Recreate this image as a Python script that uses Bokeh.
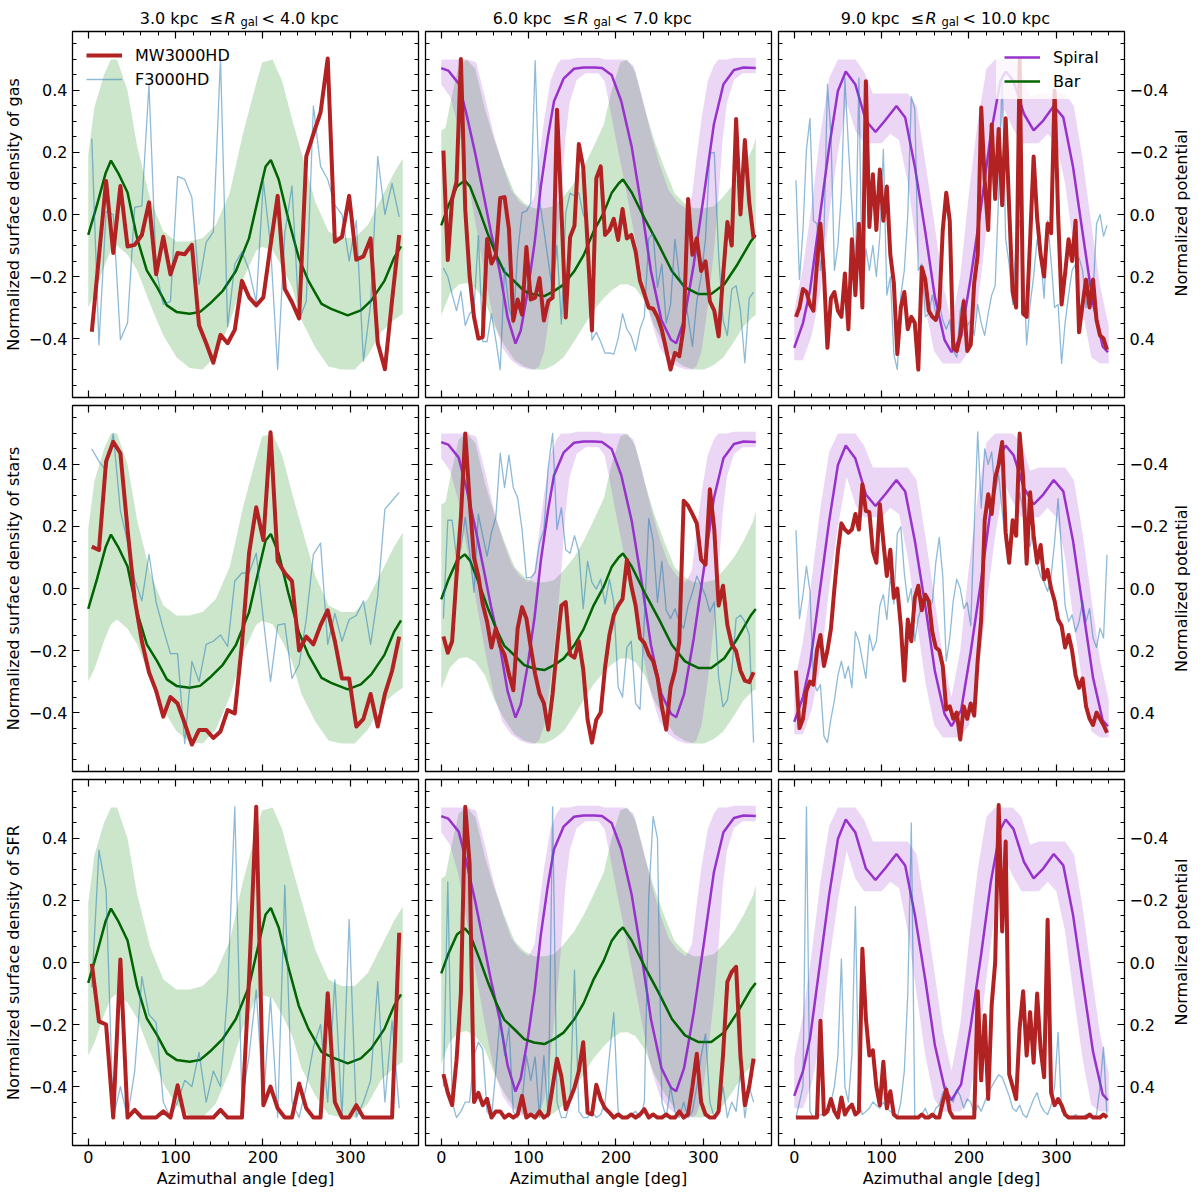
import numpy as np
from bokeh.plotting import figure
from bokeh.models import (Range1d, LinearAxis, FixedTicker, Legend, LegendItem,
                          CustomJSTickFormatter)
from bokeh.core.properties import value
from bokeh.layouts import column, row
from bokeh.embed import file_html
from bokeh.resources import INLINE

FONT = "DejaVu Sans"
FS = "16px"
FW, FH = 346, 366
AXL = 66   # space for the labelled left axis
AXR = 46   # space for the labelled right axis ticks
TITLE_H = 30
RLAB_W = 20

# ---------------- tick positions ----------------
X_MAJOR = [0, 100, 200, 300]
X_MINOR = [20, 40, 60, 80, 120, 140, 160, 180, 220, 240, 260, 280, 320, 340, 360]
Y_MAJOR = [-0.4, -0.2, 0.0, 0.2, 0.4]
Y_MINOR = [-0.55, -0.5, -0.45, -0.35, -0.3, -0.25, -0.15, -0.1, -0.05,
           0.05, 0.1, 0.15, 0.25, 0.3, 0.35, 0.45, 0.5, 0.55]

# ---------------- titles / labels ----------------
R_BINS = [("3.0", "4.0"), ("6.0", "7.0"), ("9.0", "10.0")]
ROW_LABELS = ["Normalized surface density of gas",
              "Normalized surface density of stars",
              "Normalized surface density of SFR"]

# ---------------- bar potential (normalized potential) ----------------
BAR3_ANG = [0, 10, 20, 26, 35, 45, 56, 67, 79, 90, 101, 116, 128, 139, 154, 169, 184, 196, 203, 209,
            218, 229, 241, 252, 267, 278, 297, 312, 324, 339, 350, 358]
BAR3_PHI = [0.066, -0.03, -0.134, -0.174, -0.13, -0.071, 0.077, 0.18, 0.235, 0.293,
            0.314, 0.32, 0.314, 0.288, 0.246, 0.182, 0.077, -0.071, -0.155, -0.176,
            -0.113, 0.014, 0.14, 0.214, 0.288, 0.304, 0.325, 0.309, 0.277, 0.214, 0.14, 0.103]
BARBAND3_ANG = [0, 7, 18, 26, 33, 45, 56, 71, 86, 101, 116, 131, 146, 162, 177, 192, 199, 211, 222, 233,
                244, 260, 275, 290, 305, 320, 335, 350, 360]
BARBAND3_LO = [-0.193, -0.345, -0.45, -0.50, -0.50, -0.40, -0.22, -0.05, 0.055, 0.087,
               0.087, 0.076, 0.034, -0.07, -0.26, -0.42, -0.49, -0.50, -0.43, -0.31,
               -0.20, -0.04, 0.055, 0.076, 0.076, 0.034, -0.05, -0.135, -0.18]
BARBAND3_HI = [0.30, 0.26, 0.17, 0.115, 0.10, 0.13, 0.18, 0.29, 0.39, 0.46,
               0.495, 0.50, 0.455, 0.35, 0.21, 0.118, 0.105, 0.115, 0.17, 0.233,
               0.34, 0.43, 0.49, 0.50, 0.50, 0.455, 0.38, 0.34, 0.32]

BAR6_ANG = [0, 8, 18, 27, 33, 44, 54, 63, 72, 84, 95, 106, 118, 129, 140, 152, 163, 174, 186, 195,
            203, 208, 218, 233, 249, 264, 279, 294, 309, 324, 339, 354, 360]
BAR6_PHI = [0.035, -0.027, -0.09, -0.11, -0.09, -0.01, 0.068, 0.131, 0.184, 0.216,
            0.247, 0.258, 0.263, 0.247, 0.226, 0.184, 0.131, 0.057, -0.006, -0.069,
            -0.10, -0.113, -0.071, 0.014, 0.098, 0.182, 0.235, 0.256, 0.256, 0.225,
            0.161, 0.088, 0.066]
BARBAND6_ANG = [0, 5, 10, 20, 29, 39, 50, 61, 72, 84, 95, 106, 118, 129, 140, 152, 163, 174, 186, 195,
                205, 213, 222, 233, 244, 255, 267, 278, 289, 301, 312, 323, 335, 346, 357, 360]
BARBAND6_LO = [-0.27, -0.28, -0.354, -0.48, -0.50, -0.47, -0.34, -0.238, -0.153, -0.069,
               -0.037, -0.02, -0.02, -0.027, -0.058, -0.10, -0.153, -0.217, -0.29, -0.40,
               -0.49, -0.50, -0.46, -0.34, -0.238, -0.153, -0.069, -0.037, -0.02, -0.02,
               -0.027, -0.058, -0.10, -0.153, -0.217, -0.25]
BARBAND6_HI = [0.326, 0.29, 0.255, 0.226, 0.221, 0.237, 0.28, 0.36, 0.42, 0.47,
               0.49, 0.50, 0.50, 0.485, 0.46, 0.41, 0.36, 0.31, 0.27, 0.245,
               0.226, 0.225, 0.237, 0.28, 0.36, 0.42, 0.47, 0.49, 0.50, 0.50,
               0.485, 0.46, 0.41, 0.36, 0.33, 0.325]

# ---------------- spiral potential ----------------
SP6_ANG = [0, 8, 20, 29, 39, 48, 57, 67, 76, 85, 91, 99, 107, 114, 122, 129, 140, 152, 163, 175,
           184, 195, 206, 218, 229, 240, 252, 263, 269, 278, 289, 301, 312, 323, 335, 346, 360]
SP6_PHI = [-0.472, -0.464, -0.422, -0.322, -0.196, -0.07, 0.058, 0.184, 0.332, 0.416,
           0.374, 0.247, 0.089, -0.09, -0.248, -0.364, -0.438, -0.47, -0.474, -0.474,
           -0.472, -0.45, -0.366, -0.218, -0.028, 0.182, 0.34, 0.404, 0.415, 0.34,
           0.161, -0.07, -0.29, -0.42, -0.466, -0.474, -0.472]
SPBAND6_ANG = [0, 10, 20, 30, 40, 50, 60, 70, 80, 90, 100, 107, 112, 118, 125, 132, 137, 142, 147, 155,
               165, 180, 187, 192, 200, 210, 220, 230, 240, 250, 260, 270, 280, 287, 292, 298, 305, 312,
               317, 322, 327, 335, 345, 360]
SPBAND6_LO = [-0.50, -0.50, -0.50, -0.50, -0.49, -0.38, -0.26, -0.16, -0.08, -0.04,
              -0.02, -0.06, -0.18, -0.31, -0.43, -0.48, -0.50, -0.50, -0.50, -0.505,
              -0.505, -0.505, -0.50, -0.50, -0.50, -0.50, -0.48, -0.38, -0.26, -0.16,
              -0.08, -0.04, -0.02, -0.06, -0.18, -0.31, -0.43, -0.48, -0.50, -0.50,
              -0.50, -0.505, -0.505, -0.505]
SPBAND6_HI = [-0.42, -0.38, -0.28, -0.12, 0.04, 0.20, 0.34, 0.43, 0.47, 0.49,
              0.50, 0.50, 0.49, 0.44, 0.30, 0.12, -0.04, -0.24, -0.36, -0.434,
              -0.455, -0.455, -0.43, -0.36, -0.24, -0.10, 0.05, 0.20, 0.34, 0.43,
              0.47, 0.49, 0.50, 0.50, 0.49, 0.44, 0.30, 0.12, -0.04, -0.24,
              -0.36, -0.434, -0.455, -0.455]

SP9_ANG = [0, 10, 18, 29, 40, 50, 59, 70, 82, 93, 104, 117, 127, 138, 150, 161, 172, 180, 191, 202,
           214, 225, 236, 242, 251, 263, 274, 285, 297, 308, 319, 331, 342, 353, 359]
SP9_PHI = [0.43, 0.35, 0.246, 0.014, -0.218, -0.398, -0.461, -0.419, -0.303, -0.266,
           -0.303, -0.35, -0.313, -0.155, 0.056, 0.267, 0.404, 0.444, 0.393, 0.204,
           -0.028, -0.26, -0.43, -0.461, -0.43, -0.324, -0.271, -0.303, -0.35, -0.313,
           -0.155, 0.077, 0.288, 0.425, 0.444]
SPBAND9_ANG = [0, 10, 20, 30, 40, 50, 60, 70, 80, 90, 100, 110, 120, 130, 140, 150, 160, 170, 180, 190,
               200, 210, 220, 230, 240, 250, 260, 270, 280, 290, 300, 310, 320, 330, 340, 350, 360]
SPBAND9_LO = [0.31, 0.17, -0.03, -0.26, -0.44, -0.50, -0.50, -0.50, -0.46, -0.39,
              -0.39, -0.39, -0.39, -0.39, -0.35, -0.17, 0.02, 0.22, 0.35, 0.20,
              -0.07, -0.30, -0.47, -0.50, -0.50, -0.50, -0.47, -0.38, -0.39, -0.39,
              -0.39, -0.39, -0.35, -0.18, 0.03, 0.23, 0.36]
SPBAND9_HI = [0.47, 0.47, 0.39, 0.25, 0.0, -0.20, -0.36, -0.27, -0.23, -0.23,
              -0.23, -0.26, -0.24, -0.10, 0.10, 0.30, 0.44, 0.48, 0.48, 0.48,
              0.44, 0.29, 0.05, -0.17, -0.34, -0.28, -0.23, -0.23, -0.23, -0.26,
              -0.23, -0.10, 0.11, 0.31, 0.46, 0.48, 0.48]

# ---------------- surface densities, 3-4 kpc (44 azimuthal bins) ----------------
GAS_R3_MW = [-0.378, -0.135, 0.108, -0.124, 0.092, -0.103, -0.098, -0.066, 0.039, -0.193,
             -0.072, -0.193, -0.124, -0.128, -0.098, -0.357, -0.415, -0.478, -0.388, -0.415,
             -0.372, -0.214, -0.267, -0.293, -0.267, -0.10, 0.06, -0.24, -0.283, -0.335,
             0.187, 0.26, 0.329, 0.503, -0.088, -0.072, 0.06, -0.146, -0.135, -0.077,
             -0.415, -0.499, -0.277, -0.066]
GAS_R3_F = [0.245, -0.42, 0.01, 0.0, -0.404, -0.35, 0.023, 0.028, 0.42, -0.18,
            -0.29, -0.28, 0.123, 0.113, 0.055, -0.225, -0.09, -0.056, 0.503, -0.362,
            -0.16, -0.12, -0.18, -0.283, 0.108, -0.1, -0.5, -0.06, 0.092, -0.34,
            -0.28, 0.35, 0.155, 0.113, 0.03, 0.0, -0.15, -0.02, -0.473, -0.29,
            0.187, 0.0, 0.10, -0.008]
STAR_R3_MW = [0.135, 0.124, 0.41, 0.473, 0.436, 0.19, -0.034, -0.17, -0.27, -0.33,
              -0.413, -0.35, -0.371, -0.435, -0.503, -0.456, -0.456, -0.482, -0.461, -0.392,
              -0.403, -0.18, 0.114, 0.262, 0.156, 0.504, 0.088, 0.05, 0.024, -0.2,
              -0.155, -0.18, -0.118, -0.07, -0.17, -0.29, -0.29, -0.445, -0.42, -0.34,
              -0.445, -0.34, -0.266, -0.155]
STAR_R3_F = [0.45, 0.41, 0.38, 0.50, 0.25, 0.15, 0.03, -0.04, 0.11, -0.045,
             -0.13, -0.21, -0.21, -0.5, -0.235, -0.30, -0.18, -0.17, -0.15, -0.187,
             0.024, 0.05, 0.05, 0.114, -0.10, -0.30, -0.118, -0.113, -0.29, -0.245,
             -0.10, 0.11, 0.146, -0.18, -0.08, -0.17, -0.10, -0.087, -0.04, -0.18,
             -0.023, 0.256, 0.283, 0.31]
SFR_R3_MW = [-0.004, -0.19, -0.20, -0.50, 0.01, -0.50, -0.475, -0.50, -0.50, -0.50,
             -0.48, -0.50, -0.396, -0.50, -0.50, -0.50, -0.50, -0.50, -0.475, -0.50,
             -0.50, -0.50, -0.05, 0.502, -0.46, -0.40, -0.47, -0.50, -0.50, -0.39,
             -0.47, -0.50, -0.50, -0.099, -0.45, -0.50, -0.50, -0.46, -0.50, -0.50,
             -0.50, -0.50, -0.50, 0.096]
SFR_R3_F = [-0.08, 0.362, 0.233, -0.50, -0.40, -0.50, -0.35, -0.046, -0.168, -0.194,
            -0.45, -0.50, -0.45, -0.38, -0.40, -0.29, -0.45, -0.35, -0.40, -0.093,
            0.502, -0.45, -0.30, -0.088, -0.45, -0.114, -0.50, 0.249, -0.45, -0.50,
            -0.40, -0.273, -0.20, -0.45, -0.056, -0.50, 0.139, -0.50, -0.45, -0.38,
            -0.062, -0.45, -0.188, -0.47]

# ---------------- surface densities, 6-7 kpc (72 azimuthal bins) ----------------
GAS_R6_MW = [0.206, -0.147, 0.05, 0.105, 0.501, 0.016, -0.2, -0.33, -0.40, -0.395,
             -0.079, -0.158, -0.131, 0.053, 0.056, -0.047, -0.342, -0.274, -0.323, -0.105,
             -0.274, -0.268, -0.205, -0.342, -0.279, -0.268, 0.338, 0.016, -0.332, -0.073,
             -0.036, 0.227, 0.153, -0.094, -0.374, 0.117, 0.155, -0.066, -0.05, -0.014,
             -0.082, 0.018, -0.077, -0.066, -0.119, -0.214, -0.256, -0.30, -0.304, -0.33,
             -0.372, -0.436, -0.50, -0.446, -0.457, -0.362, 0.05, -0.13, -0.077, -0.182,
             -0.151, -0.28, -0.31, -0.393, -0.2, -0.024, -0.1, 0.308, 0.0, 0.24,
             0.04, -0.077]
GAS_R6_F = [-0.173, -0.2, -0.258, -0.31, -0.247, -0.358, -0.32, -0.305, -0.068, -0.41,
            -0.41, -0.32, -0.405, -0.5, -0.173, -0.30, -0.35, -0.12, 0.006, 0.011,
            0.037, 0.496, 0.047, -0.05, -0.15, -0.247, -0.10, -0.353, 0.006, 0.069,
            0.06, 0.07, 0.0, -0.03, -0.405, -0.38, -0.41, -0.447, -0.446, -0.45,
            -0.40, -0.32, -0.37, -0.393, -0.44, -0.37, -0.33, -0.077, -0.06, -0.235,
            -0.16, -0.35, -0.29, -0.08, -0.20, -0.24, -0.33, -0.425, -0.28, -0.20,
            -0.077, 0.197, 0.2, -0.13, -0.34, -0.39, -0.24, -0.23, -0.31, -0.478,
            -0.27, -0.25]
STAR_R6_MW = [-0.155, -0.207, -0.17, 0.04, 0.23, 0.50, 0.283, 0.10, 0.04, -0.05,
              -0.107, -0.19, -0.128, -0.186, -0.213, -0.276, -0.328, -0.128, -0.06, -0.097,
              -0.19, -0.276, -0.339, -0.37, -0.455, -0.339, -0.19, -0.055, -0.044, -0.213,
              -0.223, -0.17, -0.26, -0.423, -0.497, -0.423, -0.40, -0.255, -0.15, -0.086,
              -0.055, -0.034, 0.093, 0.009, -0.055, -0.16, -0.176, -0.213, -0.234, -0.287,
              -0.381, -0.455, -0.318, -0.265, -0.17, 0.283, 0.267, 0.24, 0.21, 0.093,
              0.077, 0.32, 0.19, -0.055, 0.009, -0.118, -0.18, -0.202, -0.265, -0.297,
              -0.302, -0.27]
STAR_R6_F = [-0.097, 0.22, 0.22, 0.10, 0.13, 0.23, 0.12, -0.012, 0.24, 0.17,
             0.104, 0.18, 0.23, 0.436, 0.325, 0.43, 0.325, 0.293, 0.19, 0.035,
             0.035, 0.051, 0.146, 0.19, 0.39, 0.50, 0.19, 0.26, 0.125, 0.114,
             0.17, 0.12, -0.065, 0.088, 0.02, -0.002, 0.03, -0.05, 0.03, -0.045,
             -0.318, -0.35, -0.19, -0.17, -0.37, -0.39, -0.10, 0.225, 0.155, -0.045,
             0.088, -0.07, -0.097, -0.065, -0.107, -0.128, -0.055, -0.012, 0.04, 0.009,
             -0.023, -0.075, -0.044, -0.287, -0.381, -0.36, -0.265, -0.097, -0.086, -0.107,
             -0.149, -0.497]
SFR_R6_MW = [-0.36, -0.42, -0.46, -0.315, -0.1, 0.502, 0.318, -0.45, -0.42, -0.46,
             -0.44, -0.50, -0.48, -0.48, -0.50, -0.49, -0.50, -0.49, -0.43, -0.50,
             -0.49, -0.50, -0.48, -0.50, -0.49, -0.40, -0.31, -0.367, -0.473, -0.44,
             -0.404, -0.35, -0.257, -0.484, -0.49, -0.394, -0.441, -0.47, -0.484, -0.50,
             -0.49, -0.50, -0.50, -0.49, -0.50, -0.49, -0.473, -0.50, -0.49, -0.50,
             -0.50, -0.49, -0.50, -0.50, -0.48, -0.50, -0.49, -0.40, -0.294, -0.45,
             -0.49, -0.50, -0.50, -0.48, -0.30, -0.062, -0.03, -0.014, -0.304, -0.46,
             -0.40, -0.31]
SFR_R6_F = [-0.40, 0.26, -0.45, -0.50, -0.48, -0.45, -0.45, -0.30, -0.257, -0.28,
            -0.48, -0.50, -0.35, -0.167, -0.30, -0.21, -0.48, -0.50, -0.45, -0.30,
            -0.38, -0.304, -0.50, -0.30, -0.50, 0.502, -0.45, -0.50, -0.50, -0.45,
            -0.025, -0.48, -0.50, -0.50, -0.48, -0.50, -0.49, -0.45, -0.30, -0.162,
            -0.48, -0.50, -0.50, -0.49, -0.48, -0.50, -0.45, 0.21, 0.47, 0.40,
            -0.45, -0.50, -0.40, -0.48, -0.50, -0.45, -0.50, -0.48, -0.40, -0.30,
            -0.23, -0.45, -0.50, -0.48, -0.40, -0.50, -0.45, -0.48, -0.35, -0.50,
            -0.40, -0.45]

# ---------------- surface densities, 9-10 kpc (90 azimuthal bins) ----------------
GAS_R9_MW = [-0.33, -0.30, -0.24, -0.25, -0.29, -0.31, -0.16, -0.03, -0.19, -0.43,
             -0.27, -0.25, -0.31, -0.33, -0.19, -0.37, -0.08, -0.26, -0.03, -0.30,
             0.43, -0.04, 0.13, -0.05, 0.145, -0.02, 0.09, -0.13, -0.22, -0.45,
             -0.30, -0.25, -0.37, -0.33, -0.35, -0.50, -0.17, -0.21, -0.31, -0.33,
             -0.34, -0.30, -0.05, 0.07, -0.02, -0.43, -0.44, -0.39, -0.28, -0.44,
             -0.42, -0.22, -0.13, 0.345, 0.11, -0.05, 0.29, 0.05, 0.276, 0.03,
             0.31, 0.02, -0.25, -0.30, 0.50, -0.32, -0.33, -0.08, 0.187, -0.01,
             -0.13, -0.20, -0.03, -0.06, 0.40, 0.0, -0.29, -0.19, -0.08, -0.15,
             -0.02, -0.38, -0.29, -0.21, -0.30, -0.21, -0.34, -0.39, -0.40, -0.436]
GAS_R9_F = [0.11, -0.21, -0.05, 0.21, 0.31, -0.02, -0.03, -0.18, -0.07, 0.42,
            0.26, -0.18, -0.10, 0.07, 0.44, 0.22, 0.03, -0.18, 0.44, -0.29,
            -0.11, -0.18, -0.10, -0.20, -0.07, 0.21, -0.26, -0.20, -0.45, -0.50,
            -0.26, -0.18, 0.0, 0.38, 0.34, -0.18, -0.16, -0.33, -0.32, -0.26,
            -0.32, -0.29, -0.34, -0.37, -0.34, -0.44, -0.46, -0.31, -0.27, -0.36,
            -0.34, -0.39, -0.29, -0.35, -0.39, -0.32, -0.26, -0.23, 0.07, 0.45,
            -0.08, -0.16, -0.29, -0.08, -0.02, -0.14, -0.42, -0.29, -0.20, -0.08,
            -0.14, -0.27, -0.02, -0.15, -0.30, -0.29, -0.48, -0.35, -0.26, -0.18,
            -0.16, -0.14, -0.18, -0.30, -0.21, -0.26, -0.03, 0.0, -0.07, -0.035]
STAR_R9_MW = [-0.265, -0.45, -0.42, -0.33, -0.30, -0.31, -0.20, -0.15, -0.25, -0.20,
              -0.13, 0.0, 0.12, 0.21, 0.19, 0.18, 0.19, 0.24, 0.19, 0.336,
              0.25, 0.246, 0.12, 0.083, 0.272, 0.15, 0.04, 0.125, -0.03, 0.0,
              -0.12, -0.297, -0.10, -0.17, -0.03, 0.009, -0.07, -0.02, -0.04, -0.14,
              -0.19, -0.2, -0.25, -0.39, -0.38, -0.42, -0.40, -0.487, -0.38, -0.42,
              -0.371, -0.41, -0.23, -0.10, 0.22, 0.304, 0.24, 0.357, 0.40, 0.472,
              0.18, 0.083, 0.22, 0.17, 0.50, 0.36, 0.08, 0.31, 0.17, 0.083,
              0.14, 0.03, 0.06, 0.0, -0.04, -0.10, -0.12, -0.19, -0.15, -0.20,
              -0.28, -0.32, -0.29, -0.38, -0.42, -0.44, -0.40, -0.42, -0.44, -0.465]
STAR_R9_F = [0.188, -0.097, -0.02, 0.072, -0.01, -0.297, -0.33, -0.31, -0.476, -0.497,
             -0.42, -0.36, -0.28, -0.234, -0.29, -0.25, -0.32, -0.139, -0.17, -0.23,
             -0.29, -0.149, -0.20, -0.17, -0.055, -0.02, -0.10, 0.04, -0.05, 0.177,
             0.199, 0.05, -0.045, 0.0, -0.17, -0.095, -0.055, -0.025, -0.065, -0.045,
             0.083, 0.165, 0.04, -0.234, -0.16, -0.04, 0.03, 0.0, -0.065, -0.045,
             -0.12, 0.2, 0.505, 0.26, 0.45, 0.40, 0.44, 0.31, 0.367, 0.25,
             0.145, 0.09, 0.19, 0.18, 0.31, 0.25, 0.16, 0.135, 0.21, 0.08,
             0.04, 0.02, -0.01, 0.04, 0.15, 0.29, 0.12, -0.055, -0.107, -0.085,
             -0.14, -0.107, -0.04, -0.107, -0.065, -0.16, -0.19, -0.128, -0.16, 0.109]
SFR_R9_MW = [-0.50, -0.50, -0.50, -0.50, -0.50, -0.50, -0.50, -0.188, -0.49, -0.48,
             -0.44, -0.48, -0.50, -0.435, -0.49, -0.47, -0.458, -0.49, -0.48, 0.044,
             -0.18, -0.30, -0.283, -0.40, -0.46, -0.32, -0.47, -0.415, -0.49, -0.50,
             -0.50, -0.50, -0.50, -0.50, -0.50, -0.50, -0.49, -0.50, -0.50, -0.49,
             -0.50, -0.50, -0.45, -0.41, -0.48, -0.50, -0.50, -0.50, -0.50, -0.50,
             -0.50, -0.50, -0.093, -0.38, -0.17, -0.44, -0.136, 0.0, 0.508, 0.10,
             0.39, -0.36, -0.40, -0.44, -0.21, -0.093, -0.30, -0.16, -0.323, -0.10,
             -0.28, -0.37, 0.138, -0.42, -0.46, -0.44, -0.46, -0.49, -0.50, -0.50,
             -0.50, -0.50, -0.50, -0.50, -0.49, -0.50, -0.50, -0.50, -0.49, -0.50]
SFR_R9_F = [-0.50, -0.45, -0.40, 0.502, -0.48, -0.50, -0.50, -0.49, -0.49, -0.47,
            -0.45, -0.40, -0.30, 0.012, -0.40, -0.45, -0.30, 0.18, -0.45, -0.49,
            -0.48, -0.47, -0.45, -0.46, -0.47, -0.45, -0.47, -0.48, -0.49, -0.50,
            -0.45, -0.35, -0.10, 0.45, -0.50, -0.50, -0.49, -0.47, -0.50, -0.50,
            -0.47, -0.46, -0.42, -0.40, -0.44, -0.45, -0.41, -0.43, -0.47, -0.44,
            -0.45, -0.49, -0.46, -0.48, -0.45, -0.42, -0.40, -0.38, -0.362, -0.37,
            -0.40, -0.43, -0.47, -0.48, -0.46, -0.49, -0.50, -0.47, -0.44, -0.42,
            -0.46, -0.48, -0.49, -0.46, -0.40, -0.225, -0.48, -0.49, -0.50, -0.50,
            -0.49, -0.50, -0.50, -0.49, -0.50, -0.50, -0.49, -0.40, -0.273, -0.50]

DENS = {
    (0, 0): (GAS_R3_MW, GAS_R3_F), (0, 1): (GAS_R6_MW, GAS_R6_F), (0, 2): (GAS_R9_MW, GAS_R9_F),
    (1, 0): (STAR_R3_MW, STAR_R3_F), (1, 1): (STAR_R6_MW, STAR_R6_F), (1, 2): (STAR_R9_MW, STAR_R9_F),
    (2, 0): (SFR_R3_MW, SFR_R3_F), (2, 1): (SFR_R6_MW, SFR_R6_F), (2, 2): (SFR_R9_MW, SFR_R9_F),
}

RED = "#b22222"
BLUE = "#1f77b4"
GREEN_LINE = "#006400"
GREEN_FILL = "#008000"
PURPLE = "#9932cc"


def bin_centres(n):
    step = 360.0 / n
    return [step * (i + 0.5) for i in range(n)]


def style_axis(ax, show_labels, y=False):
    ax.major_tick_in = 7
    ax.major_tick_out = 0
    ax.minor_tick_in = 4
    ax.minor_tick_out = 0
    ax.major_tick_line_color = "black"
    ax.minor_tick_line_color = "black"
    ax.major_tick_line_width = 1.2
    ax.minor_tick_line_width = 1.0
    ax.axis_line_color = None
    ax.major_label_text_font = FONT
    ax.major_label_text_color = "black"
    ax.axis_label_text_font = FONT
    ax.axis_label_text_font_size = FS
    ax.axis_label_text_font_style = "normal"
    ax.axis_label_text_color = "black"
    if show_labels:
        ax.major_label_text_font_size = FS
        ax.major_label_standoff = 5
        ax.axis_label_standoff = 3
        if y:
            ax.formatter = CustomJSTickFormatter(
                code="return (tick < -1e-9 ? '\u2212' : '') + Math.abs(tick).toFixed(1);")
    else:
        ax.major_label_text_font_size = "0px"
        ax.major_label_standoff = 0
        ax.axis_label_standoff = 0
        ax.formatter = CustomJSTickFormatter(code="return '';")


def _legend_style(leg):
    leg.label_text_font = FONT
    leg.label_text_font_size = FS
    leg.label_text_color = "black"
    leg.glyph_width = 36
    leg.glyph_height = 20
    leg.label_height = 20
    leg.spacing = 4
    leg.label_standoff = 13


def side_borders(c):
    return (AXL if c == 0 else 4), (AXR if c == 2 else 3)


def top_border(r):
    return 1 if r == 0 else 4


def plain_fig(width, height, xr, yr):
    p = figure(width=width, height=height, x_range=xr, y_range=yr, title=None,
               x_axis_location=None, y_axis_location=None,
               output_backend="svg", toolbar_location=None,
               min_border_left=0, min_border_right=0, min_border_top=0, min_border_bottom=0,
               background_fill_color="white", border_fill_color="white",
               outline_line_color=None)
    p.xgrid.grid_line_color = None
    p.ygrid.grid_line_color = None
    return p


def make_title(c):
    lo, hi = R_BINS[c]
    bl, br = side_borders(c)
    p = plain_fig(bl + FW + br, TITLE_H,
                  Range1d(-18 - 396.0 * bl / FW, 378 + 396.0 * br / FW), Range1d(0, TITLE_H))
    rx = -15 if c < 2 else -20
    common = dict(text_font=value(FONT), text_color="black", text_baseline="alphabetic")
    base_y = 12
    p.text(x=[180], y=[base_y], text=[f"{lo} kpc"], x_offset=rx - 26, text_align="right",
           text_font_size=value(FS), **common)
    p.text(x=[180], y=[base_y], text=["\u2264"], x_offset=rx - 15, text_align="left",
           text_font_size=value(FS), **common)
    p.text(x=[180], y=[base_y], text=["R"], x_offset=rx, text_align="left",
           text_font_size=value(FS), text_font_style="italic", **common)
    p.text(x=[180], y=[base_y - 3.5], text=["gal"], x_offset=rx + 16, text_align="left",
           text_font_size=value("11.5px"), **common)
    p.text(x=[180], y=[base_y], text=[f"< {hi} kpc"], x_offset=rx + 37, text_align="left",
           text_font_size=value(FS), **common)
    return p


def make_right_label(r):
    tb = top_border(r)
    px = 1.18 / FH
    p = plain_fig(RLAB_W, tb + FH + 4, Range1d(0, 1), Range1d(-0.59 - 4 * px, 0.59 + tb * px))
    p.text(x=[0.5], y=[0.0], text=["Normalized potential"], angle=np.pi / 2,
           text_align="center", text_baseline="middle", text_font=value(FONT),
           text_font_size=value(FS), text_color="black")
    return p


def make_panel(r, c):
    bl, br = side_borders(c)
    p = figure(frame_width=FW, frame_height=FH,
               x_range=Range1d(-18, 378), y_range=Range1d(-0.59, 0.59),
               x_axis_location=None, y_axis_location=None, title=None,
               output_backend="svg", toolbar_location=None,
               min_border_left=bl, min_border_right=br,
               min_border_top=top_border(r), min_border_bottom=5 if r == 2 else 4,
               background_fill_color="white", border_fill_color="white",
               outline_line_color="black", outline_line_width=1.3)
    p.xgrid.grid_line_color = None
    p.ygrid.grid_line_color = None
    p.extra_y_ranges = {"pot": Range1d(0.59, -0.59)}

    xt = FixedTicker(ticks=X_MAJOR, minor_ticks=X_MINOR)
    yt = FixedTicker(ticks=Y_MAJOR, minor_ticks=Y_MINOR)
    below = LinearAxis(ticker=xt)
    above = LinearAxis(ticker=xt)
    left = LinearAxis(ticker=yt)
    right = LinearAxis(ticker=yt, y_range_name="pot")
    style_axis(below, r == 2)
    style_axis(above, False)
    style_axis(left, c == 0, y=True)
    style_axis(right, c == 2, y=True)
    if r == 2:
        below.axis_label = "Azimuthal angle [deg]"
    if c == 0:
        left.axis_label = ROW_LABELS[r]
    p.add_layout(below, "below")
    p.add_layout(above, "above")
    p.add_layout(left, "left")
    p.add_layout(right, "right")

    # potential bands
    if c == 0:
        p.varea(x=BARBAND3_ANG, y1=BARBAND3_LO, y2=BARBAND3_HI, y_range_name="pot",
                fill_color=GREEN_FILL, fill_alpha=0.2)
    if c == 1:
        p.varea(x=BARBAND6_ANG, y1=BARBAND6_LO, y2=BARBAND6_HI, y_range_name="pot",
                fill_color=GREEN_FILL, fill_alpha=0.2)
        p.varea(x=SPBAND6_ANG, y1=SPBAND6_LO, y2=SPBAND6_HI, y_range_name="pot",
                fill_color=PURPLE, fill_alpha=0.2)
    if c == 2:
        p.varea(x=SPBAND9_ANG, y1=SPBAND9_LO, y2=SPBAND9_HI, y_range_name="pot",
                fill_color=PURPLE, fill_alpha=0.2)

    # potential curves
    sp_r = None
    bar_r = None
    if c == 1:
        sp_r = p.line(SP6_ANG, SP6_PHI, y_range_name="pot", line_color=PURPLE, line_width=2.5)
        bar_r = p.line(BAR6_ANG, BAR6_PHI, y_range_name="pot", line_color=GREEN_LINE, line_width=2.5)
    if c == 0:
        bar_r = p.line(BAR3_ANG, BAR3_PHI, y_range_name="pot", line_color=GREEN_LINE, line_width=2.5)
    if c == 2:
        sp_r = p.line(SP9_ANG, SP9_PHI, y_range_name="pot", line_color=PURPLE, line_width=2.5)
        # no bar in this annulus: legend entry only (line lies outside the visible range)
        bar_r = p.line([-60, -50], [0, 0], y_range_name="pot", line_color=GREEN_LINE, line_width=2.5)

    mw, f3 = DENS[(r, c)]
    r_blue = p.line(bin_centres(len(f3)), f3, line_color=BLUE, line_alpha=0.5, line_width=1.3,
                    line_join="round")
    r_red = p.line(bin_centres(len(mw)), mw, line_color=RED, line_width=4, line_join="round")

    if r == 0 and c == 0:
        leg = Legend(items=[LegendItem(label="MW3000HD", renderers=[r_red]),
                            LegendItem(label="F3000HD", renderers=[r_blue])],
                     location="top_left")
        leg.background_fill_alpha = 0
        leg.border_line_alpha = 0
        leg.margin = 7
        leg.padding = 7
        leg.label_width = 60
        _legend_style(leg)
        p.add_layout(leg)
    if r == 0 and c == 2:
        leg = Legend(items=[LegendItem(label="Spiral", renderers=[sp_r]),
                            LegendItem(label="Bar", renderers=[bar_r])],
                     location="top_right")
        leg.background_fill_color = "white"
        leg.background_fill_alpha = 0.8
        leg.border_line_alpha = 0
        leg.margin = 8
        leg.padding = 8
        leg.label_width = 55
        _legend_style(leg)
        p.add_layout(leg)
    return p


rows = [row([make_title(c) for c in range(3)], spacing=0)]
for r in range(3):
    rows.append(row([make_panel(r, c) for c in range(3)] + [make_right_label(r)], spacing=0))
layout = column(rows, spacing=0)

open("out.html", "w").write(file_html(layout, INLINE))
